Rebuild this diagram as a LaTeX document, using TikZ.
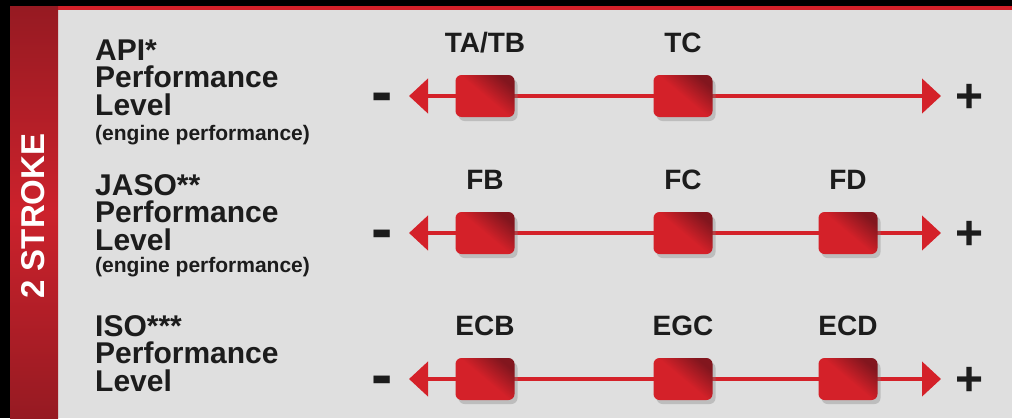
\documentclass[tikz,border=0pt]{standalone}
\usepackage{fontspec}
\setmainfont{Liberation Sans}
\usetikzlibrary{arrows.meta,shadows}
\definecolor{stripred}{RGB}{204,34,44}
\definecolor{stripdark}{RGB}{150,26,34}
\definecolor{linered}{RGB}{212,33,41}
\definecolor{boxdark}{RGB}{130,22,30}
\definecolor{paper}{RGB}{223,223,223}
\definecolor{ink}{RGB}{28,28,28}
\tikzset{
  heading/.style={inner sep=0pt, anchor=base west, align=left, text=ink, font=\fontsize{30}{27.5}\selectfont\bfseries},
  note/.style={inner sep=0pt, anchor=base west, text=ink, font=\fontsize{21}{21}\selectfont\bfseries},
  grade/.style={inner sep=0pt, anchor=base, text=ink, font=\fontsize{28}{28}\selectfont\bfseries},
  sign/.style={inner sep=0pt, anchor=base, text=ink, font=\fontsize{48}{48}\selectfont\bfseries},
  minus/.style={sign, font=\fontsize{64}{64}\selectfont\bfseries},
  levelline/.style={draw=linered, line width=4.5pt, {Triangle[length=19pt,width=34pt]}-{Triangle[length=19pt,width=34pt]}},
  levelbox/.style={rounded corners=6pt, minimum width=59pt, minimum height=42pt, inner sep=0pt,
    top color=boxdark, bottom color=linered, middle color=linered, shading angle=-40,
    drop shadow={shadow xshift=3pt, shadow yshift=-4pt, opacity=0.35}},
}
\begin{document}
\begin{tikzpicture}[x=1pt, y=-1pt]
\useasboundingbox (0,0) rectangle (1012,418);
% frame
\fill[black] (0,0) rectangle (1012,418);
\fill[linered] (10,6) rectangle (1012,10);
\fill[paper] (58,10) rectangle (1012,418);
\shade[top color=stripdark, bottom color=stripdark, middle color=stripred] (10,6) rectangle (58,418);
\node[rotate=90, inner sep=0pt, text=white, font=\fontsize{33}{33}\selectfont\bfseries] (side) at (33,216) {2 STROKE};
% API
\node[heading] (api) at (95,115) {API*\\Performance\\Level};
\node[note] (apinote) at (95,140) {(engine performance)};
\coordinate (l1) at (409,96);
\coordinate (r1) at (941,96);
\draw[levelline] (l1) -- (r1);
\node[levelbox] (b11) at (485,96) {};
\node[levelbox] (b12) at (683,96) {};
\node[grade] (g11) at (485,52) {TA/TB};
\node[grade] (g12) at (683,52) {TC};
\node[minus] (m1) at (382,113) {-};
\node[sign] (p1) at (970,112) {+};
% JASO
\node[heading] (jaso) at (95,250) {JASO**\\Performance\\Level};
\node[note] (jasonote) at (95,272) {(engine performance)};
\coordinate (l2) at (409,233);
\coordinate (r2) at (941,233);
\draw[levelline] (l2) -- (r2);
\node[levelbox] (b21) at (485,233) {};
\node[levelbox] (b22) at (683,233) {};
\node[levelbox] (b23) at (848,233) {};
\node[grade] (g21) at (485,189) {FB};
\node[grade] (g22) at (683,189) {FC};
\node[grade] (g23) at (848,189) {FD};
\node[minus] (m2) at (382,250) {-};
\node[sign] (p2) at (970,249) {+};
% ISO
\node[heading] (iso) at (95,391) {ISO***\\Performance\\Level};
\coordinate (l3) at (409,379);
\coordinate (r3) at (941,379);
\draw[levelline] (l3) -- (r3);
\node[levelbox] (b31) at (485,379) {};
\node[levelbox] (b32) at (683,379) {};
\node[levelbox] (b33) at (848,379) {};
\node[grade] (g31) at (485,335) {ECB};
\node[grade] (g32) at (683,335) {EGC};
\node[grade] (g33) at (848,335) {ECD};
\node[minus] (m3) at (382,396) {-};
\node[sign] (p3) at (970,395) {+};
\end{tikzpicture}
\end{document}
